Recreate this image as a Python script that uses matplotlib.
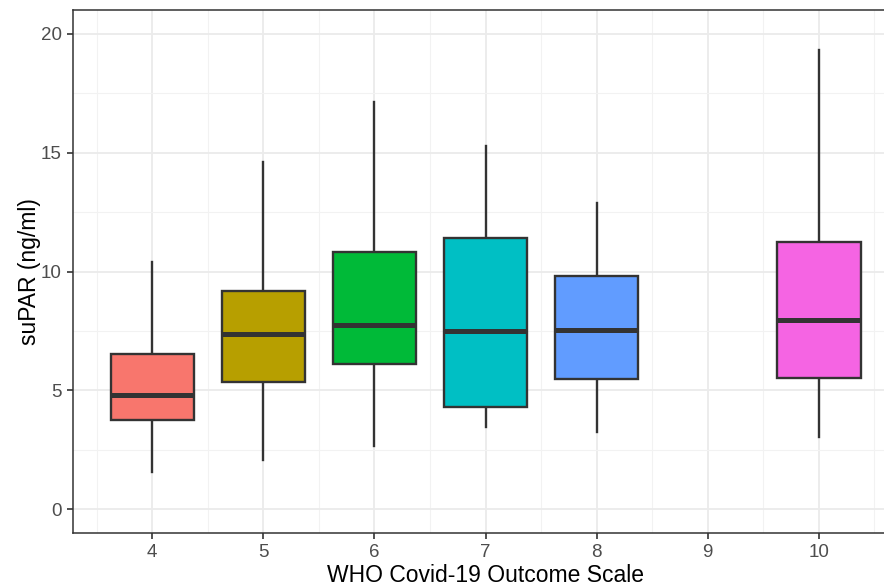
import matplotlib
matplotlib.use("Agg")
import matplotlib.pyplot as plt
from matplotlib.ticker import MultipleLocator

plt.rcParams['font.family'] = ['Liberation Sans', 'DejaVu Sans']

categories = [4, 5, 6, 7, 8, 10]
q1 = [3.74, 5.34, 6.13, 4.29, 5.46, 5.50]
median = [4.79, 7.35, 7.73, 7.48, 7.56, 7.94]
q3 = [6.51, 9.20, 10.84, 11.39, 9.79, 11.22]
whisker_low = [1.55, 2.06, 2.65, 3.45, 3.24, 3.03]
whisker_high = [10.42, 14.62, 17.14, 15.29, 12.90, 19.33]
colors = ['#F8766D', '#B79F00', '#00BA38', '#00BFC4', '#619CFF', '#F564E3']
xticks = [4, 5, 6, 7, 8, 9, 10]
yticks = [0, 5, 10, 15, 20]

W, H = 884, 587
fig = plt.figure(figsize=(W / 100, H / 100), dpi=100)
left, right, top, bottom = 73, 898, 10, 533
ax = fig.add_axes([left / W, 1 - bottom / H, (right - left) / W, (bottom - top) / H])

stats = []
for c, a, m, b, lo, hi in zip(categories, q1, median, q3, whisker_low, whisker_high):
    stats.append(dict(med=m, q1=a, q3=b, whislo=lo, whishi=hi, fliers=[]))

bp = ax.bxp(stats, positions=categories, widths=0.75, patch_artist=True,
            showcaps=False, showfliers=False,
            boxprops=dict(edgecolor='#333333', linewidth=1.7),
            medianprops=dict(color='#333333', linewidth=3.6, solid_capstyle='butt'),
            whiskerprops=dict(color='#333333', linewidth=1.7),
            manage_ticks=False)
for patch, col in zip(bp['boxes'], colors):
    patch.set_facecolor(col)
for w in bp['whiskers']:
    w.set_zorder(1)
for b in bp['boxes']:
    b.set_zorder(2)
for m in bp['medians']:
    m.set_zorder(3)

ax.set_xlim(3.2875, 10.7125)
ax.set_ylim(-1, 21)
ax.set_xticks(xticks)
ax.set_xticklabels([str(t) for t in xticks])
ax.set_yticks(yticks)
ax.xaxis.set_minor_locator(MultipleLocator(0.5))
ax.yaxis.set_minor_locator(MultipleLocator(2.5))
ax.grid(True, which='major', color='#EBEBEB', linewidth=1.3, zorder=0)
ax.grid(True, which='minor', color='#F2F2F2', linewidth=0.8, zorder=0)
ax.set_axisbelow(True)
ax.tick_params(which='minor', length=0)
ax.tick_params(which='major', length=4, width=1.2, color='#333333',
               labelcolor='#4D4D4D', labelsize=13.5, pad=4)
for s in ax.spines.values():
    s.set_color('#333333')
    s.set_linewidth(1.1)

ax.set_xlabel('WHO Covid-19 Outcome Scale', fontsize=16.5, color='black', labelpad=2)
ax.set_ylabel('suPAR (ng/ml)', fontsize=16.5, color='black', labelpad=0)

fig.savefig('out.png', dpi=100)
